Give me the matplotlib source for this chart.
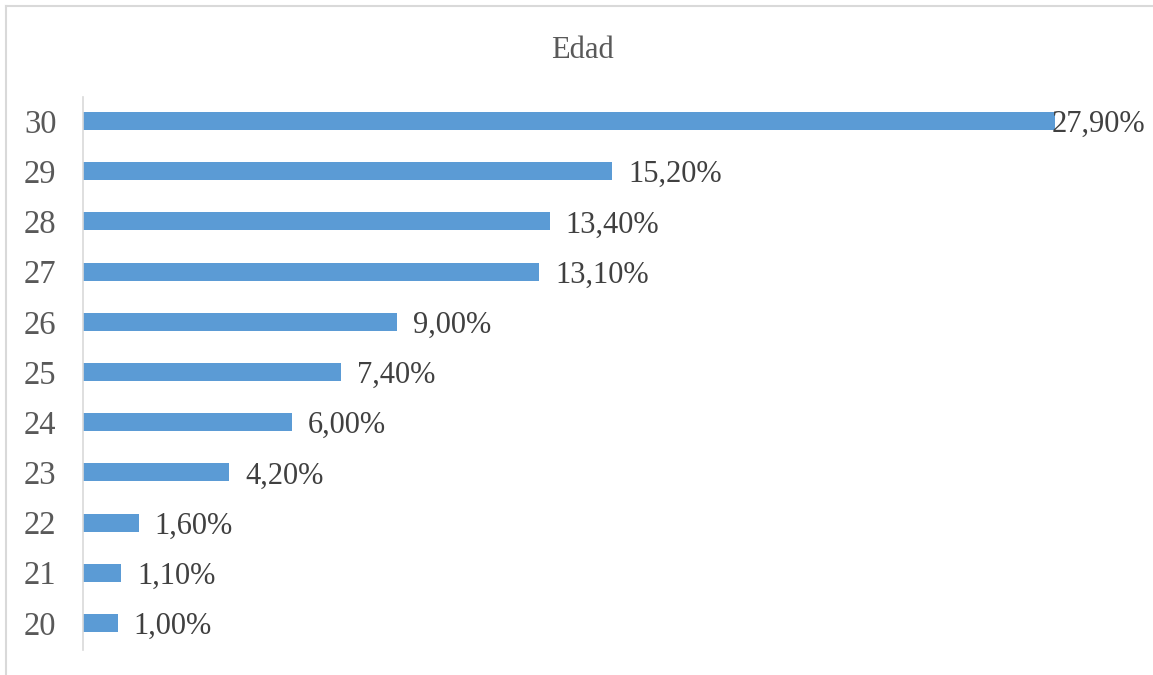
import matplotlib
matplotlib.use("Agg")
import matplotlib.pyplot as plt
from matplotlib.lines import Line2D

ages = ["20", "21", "22", "23", "24", "25", "26", "27", "28", "29", "30"]
values = [1.0, 1.1, 1.6, 4.2, 6.0, 7.4, 9.0, 13.1, 13.4, 15.2, 27.9]
labels = ["1,00%", "1,10%", "1,60%", "4,20%", "6,00%", "7,40%", "9,00%",
          "13,10%", "13,40%", "15,20%", "27,90%"]
title = "Edad"

W, H = 1153, 675
fig = plt.figure(figsize=(W / 100, H / 100), dpi=100)
plt.rcParams['font.family'] = ['Liberation Serif', 'DejaVu Serif']

ax_l, ax_r, ax_t, ax_b = 83, 1128, 97, 650
ax = fig.add_axes([ax_l / W, 1 - ax_b / H, (ax_r - ax_l) / W, (ax_b - ax_t) / H])

pos = list(range(len(ages)))
ax.barh(pos, values, height=0.36, color="#5B9BD5", zorder=2)
ax.set_xlim(0, 30)
ax.set_ylim(-0.54, 10.48)
ax.set_yticks(pos)
ax.set_yticklabels(ages, fontsize=23.5, color="#595959")
ax.tick_params(axis='y', length=0, pad=19)
ax.set_xticks([])
for s in ["top", "right", "bottom"]:
    ax.spines[s].set_visible(False)
ax.spines["left"].set_color("#d9d9d9")
ax.spines["left"].set_linewidth(1.2)

px_per_unit = (ax_r - ax_l) / 30
off = 16 / px_per_unit
clip = (1052 - ax_l) / px_per_unit
for p, v, lab in zip(pos, values, labels):
    x = min(v + off, clip)
    ax.text(x, p - 0.07, lab, ha="left", va="center", fontsize=22,
            color="#404040", zorder=3)

fig.text(582 / W, 1 - 50 / H, title, ha="center", va="center",
         fontsize=22, color="#595959")

# chart border (top and left visible)
fig.add_artist(Line2D([6 / W, 1], [1 - 6 / H, 1 - 6 / H], color="#d9d9d9",
                      lw=1.5, transform=fig.transFigure))
fig.add_artist(Line2D([6 / W, 6 / W], [0, 1 - 6 / H], color="#d9d9d9",
                      lw=1.5, transform=fig.transFigure))

fig.savefig("out.png", dpi=100, facecolor="white")
